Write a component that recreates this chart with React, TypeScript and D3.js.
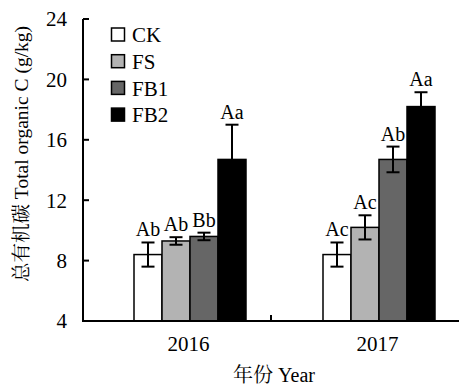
import React, { useEffect, useRef } from 'react'
import * as d3 from 'd3'

const years = ['2016', '2017']
const treatments = ['CK', 'FS', 'FB1', 'FB2']
const fills = ['#ffffff', '#b3b3b3', '#666666', '#000000']
const values2016 = [8.4, 9.3, 9.6, 14.7]
const values2017 = [8.4, 10.2, 14.7, 18.2]
const errors2016 = [0.8, 0.25, 0.25, 2.3]
const errors2017 = [0.8, 0.8, 0.85, 0.95]
const letters2016 = ['Ab', 'Ab', 'Bb', 'Aa']
const letters2017 = ['Ac', 'Ac', 'Ab', 'Aa']
const yTicks = [4, 8, 12, 16, 20, 24]

const font = '"Liberation Serif", "Times New Roman", "Noto Serif CJK SC", "Noto Sans CJK SC", serif'

export default function App() {
  const ref = useRef<SVGSVGElement>(null)

  useEffect(() => {
    const svg = d3.select(ref.current)
    svg.selectAll('*').remove()

    const left = 83, right = 459, top = 19, bottom = 321

    const y = d3.scaleLinear().domain([4, 24]).range([bottom, top])
    // group centres sit a little right of the band centres in the original
    const x = d3.scaleBand().domain(years).range([95.5, 473.5])
    const xs = d3.scaleBand().domain(treatments).range([0, 112])
    const offset = (x.bandwidth() - 112) / 2

    const data = years.flatMap((yr, i) => {
      const vals = i === 0 ? values2016 : values2017
      const errs = i === 0 ? errors2016 : errors2017
      const lets = i === 0 ? letters2016 : letters2017
      return treatments.map((t, j) => ({
        year: yr, t, v: vals[j], e: errs[j], l: lets[j], fill: fills[j]
      }))
    })

    const g = svg.append('g')

    // bars
    g.selectAll('rect.bar')
      .data(data)
      .enter().append('rect')
      .attr('class', 'bar')
      .attr('x', d => x(d.year)! + offset + xs(d.t)!)
      .attr('width', xs.bandwidth())
      .attr('y', d => y(d.v))
      .attr('height', d => y(4) - y(d.v))
      .attr('fill', d => d.fill)
      .attr('stroke', '#000')
      .attr('stroke-width', 1.5)

    // error bars
    const cx = (d: any) => x(d.year)! + offset + xs(d.t)! + xs.bandwidth() / 2
    const eb = g.selectAll('g.err').data(data).enter().append('g')
      .attr('stroke', '#000')
      .attr('stroke-width', 2)
    eb.append('line')
      .attr('x1', cx).attr('x2', cx)
      .attr('y1', d => y(d.v + d.e)).attr('y2', d => y(d.v - d.e))
    eb.append('line')
      .attr('x1', d => cx(d) - 6.5).attr('x2', d => cx(d) + 6.5)
      .attr('y1', d => y(d.v + d.e)).attr('y2', d => y(d.v + d.e))
    eb.append('line')
      .attr('x1', d => cx(d) - 6.5).attr('x2', d => cx(d) + 6.5)
      .attr('y1', d => y(d.v - d.e)).attr('y2', d => y(d.v - d.e))

    // significance letters
    g.selectAll('text.sig').data(data).enter().append('text')
      .attr('x', cx)
      .attr('y', d => y(d.v + d.e) - 6)
      .attr('text-anchor', 'middle')
      .style('font-family', font)
      .style('font-size', '20px')
      .text(d => d.l)

    // axes
    g.append('line')
      .attr('x1', left).attr('x2', left).attr('y1', top).attr('y2', bottom)
      .attr('stroke', '#000').attr('stroke-width', 2)
    g.append('line')
      .attr('x1', left - 1).attr('x2', right).attr('y1', bottom).attr('y2', bottom)
      .attr('stroke', '#000').attr('stroke-width', 2)

    g.selectAll('line.ytick').data(yTicks).enter().append('line')
      .attr('x1', left).attr('x2', left + 6)
      .attr('y1', d => y(d)).attr('y2', d => y(d))
      .attr('stroke', '#000').attr('stroke-width', 2)
    g.selectAll('text.ytick').data(yTicks).enter().append('text')
      .attr('x', 67)
      .attr('y', d => y(d))
      .attr('dy', '0.35em')
      .attr('text-anchor', 'end')
      .style('font-family', font)
      .style('font-size', '21px')
      .text(d => d)

    // single tick between the two years
    g.append('line')
      .attr('x1', (left + right) / 2).attr('x2', (left + right) / 2)
      .attr('y1', bottom).attr('y2', bottom - 6)
      .attr('stroke', '#000').attr('stroke-width', 2)

    g.selectAll('text.xtick').data(years).enter().append('text')
      .attr('x', d => x(d)! + x.bandwidth() / 2 - 1.5)
      .attr('y', 351)
      .attr('text-anchor', 'middle')
      .style('font-family', font)
      .style('font-size', '21px')
      .text(d => d)

    // axis titles
    g.append('text')
      .attr('x', 274)
      .attr('y', 382)
      .attr('text-anchor', 'middle')
      .style('font-family', font)
      .style('font-size', '20px')
      .text('年份 Year')
    g.append('text')
      .attr('transform', 'translate(28, 154) rotate(-90)')
      .attr('text-anchor', 'middle')
      .style('font-family', font)
      .style('font-size', '19.5px')
      .text('总有机碳 Total organic C (g/kg)')

    // legend
    const lg = g.selectAll('g.leg').data(treatments).enter().append('g')
      .attr('transform', (d, i) => `translate(111.5, ${28 + i * 26.7})`)
    lg.append('rect')
      .attr('width', 13).attr('height', 13)
      .attr('fill', (d, i) => fills[i])
      .attr('stroke', '#000').attr('stroke-width', 1.5)
    lg.append('text')
      .attr('x', 20.5).attr('y', 7).attr('dy', '0.35em')
      .style('font-family', font)
      .style('font-size', '21px')
      .text(d => d)
  }, [])

  return (
    <svg ref={ref} width={459} height={387}
      style={{ position: 'absolute', left: 0, top: 0, background: '#fff' }} />
  )
}
